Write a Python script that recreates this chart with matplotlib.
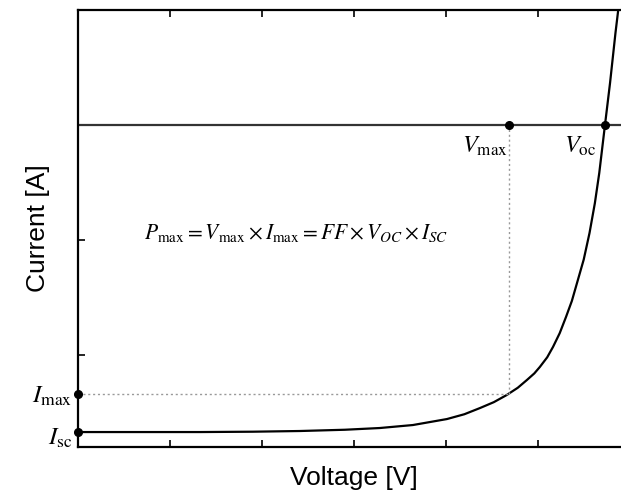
import matplotlib.pyplot as plt

plt.rcParams['mathtext.fontset'] = 'stix'

# I-V curve (chart units: 1 x unit = one tick interval)
voltage = [0.0, 0.7, 1.33, 1.9, 2.41, 2.9, 3.28, 3.64, 4.01, 4.2, 4.37, 4.52, 4.66,
           4.78, 4.88, 4.96, 5.02, 5.1, 5.163, 5.236, 5.304, 5.368, 5.424, 5.497,
           5.56, 5.618, 5.666, 5.728, 5.783, 5.842, 5.875]
current = [0.13, 0.13, 0.13, 0.133, 0.139, 0.15, 0.165, 0.191, 0.243, 0.285, 0.339,
           0.39, 0.452, 0.515, 0.583, 0.64, 0.696, 0.78, 0.87, 0.99, 1.13, 1.27,
           1.426, 1.63, 1.861, 2.12, 2.383, 2.8, 3.165, 3.6, 3.82]

v_zero_line = 2.8      # current level of the horizontal axis line
v_max = 4.69
v_oc = 5.728
i_max = 0.46
i_sc = 0.13

fig = plt.figure(figsize=(6.21, 4.98), dpi=100)
ax = fig.add_axes([78 / 621, 51 / 498, 552 / 621, 437 / 498])

ax.plot(voltage, current, color='black', lw=1.6, solid_joinstyle='round')
ax.axhline(v_zero_line, color='#333333', lw=1.6)

# dotted guides to the max power point
ax.plot([0, v_max], [i_max, i_max], ls=(0, (1.5, 2)), color='#999999', lw=1.0)
ax.plot([v_max, v_max], [i_max, v_zero_line], ls=(0, (1.5, 2)), color='#999999', lw=1.0)

ax.plot([0, 0, v_max, v_oc], [i_sc, i_max, v_zero_line, v_zero_line], 'o',
        color='black', ms=5.5, clip_on=False, zorder=5)

ax.set_xlim(0, 6)
ax.set_ylim(0, 3.8)
ax.set_xticks([1, 2, 3, 4, 5])
ax.set_yticks([0.8, 1.8, 2.8])
ax.tick_params(axis='x', direction='in', top=True, bottom=True, length=5, width=1.2,
               labelbottom=False)
ax.tick_params(axis='y', direction='in', left=True, right=False, length=5, width=1.2,
               labelleft=False)
for s in ax.spines.values():
    s.set_linewidth(1.6)
ax.spines['right'].set_visible(False)

ax.set_xlabel('Voltage [V]', family='Liberation Sans', fontsize=19, labelpad=14)
ax.set_ylabel('Current [A]', family='Liberation Sans', fontsize=19, labelpad=20)

# annotations
ax.text(-0.06, i_max - 0.02, r'$I_{\rm max}$', ha='right', va='center', fontsize=18)
ax.text(-0.06, i_sc - 0.05, r'$I_{\rm sc}$', ha='right', va='center', fontsize=18)
ax.text(v_max - 0.02, v_zero_line - 0.08, r'$V_{\rm max}$', ha='right', va='top', fontsize=17.5)
ax.text(v_oc - 0.09, v_zero_line - 0.08, r'$V_{\rm oc}$', ha='right', va='top', fontsize=17.5)
ax.text(2.37, 1.86,
        r'$P_{\rm max} = V_{\rm max} \times I_{\rm max} = FF \times V_{OC} \times I_{SC}$',
        ha='center', va='center', fontsize=15.5)

fig.savefig('out.png', dpi=100)
